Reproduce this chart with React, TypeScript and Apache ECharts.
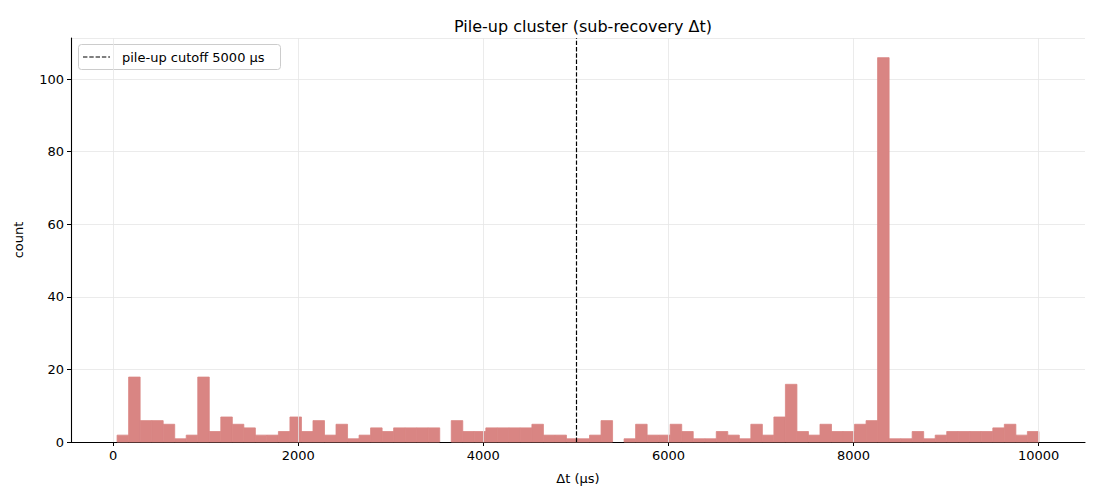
import React, { useEffect, useRef } from "react";
import * as echarts from "echarts";

const BIN_START = 43;
const BIN_WIDTH = 124.5;
const counts = [
  2, 18, 6, 6, 5, 1, 2, 18, 3, 7, 5, 4, 2, 2, 3, 7, 3, 6, 2, 5,
  1, 2, 4, 3, 4, 4, 4, 4, 0, 6, 3, 3, 4, 4, 4, 4, 5, 2, 2, 1, 1,
  2, 6, 0, 1, 5, 2, 2, 5, 3, 1, 1, 3, 2, 1, 5, 2, 7, 16, 3, 2, 5,
  3, 3, 5, 6, 106, 1, 1, 3, 1, 2, 3, 3, 3, 3, 4, 5, 2, 3,
];
const xTicks = [0, 2000, 4000, 6000, 8000, 10000];
const CUTOFF = 5000;
const TITLE = "Pile-up cluster (sub-recovery Δt)";
const LEGEND_LABEL = "pile-up cutoff 5000 μs";

const FONT = "DejaVu Sans";
const BAR_COLOR = "#d98583";

export default function App() {
  const ref = useRef<HTMLDivElement>(null);
  useEffect(() => {
    document.body.style.margin = "0";
    const chart = echarts.init(ref.current!, null, { renderer: "svg" });
    const bins = counts.map((c, i) => [
      BIN_START + i * BIN_WIDTH,
      BIN_START + (i + 1) * BIN_WIDTH,
      c,
    ]);
    const xMin = -455;
    const xMax = 10501;
    const yMax = 111.3;
    chart.setOption({
      animation: false,
      textStyle: { fontFamily: FONT },
      title: {
        text: TITLE,
        left: 578,
        top: 13,
        textAlign: "center",
        textStyle: { fontFamily: FONT, fontSize: 16, fontWeight: "normal", color: "#000" },
      },
      grid: { left: 71, right: 15, top: 38, bottom: 58, containLabel: false },
      xAxis: {
        type: "value",
        min: xMin,
        max: xMax,
        name: "Δt (μs)",
        nameLocation: "middle",
        nameGap: 30,
        nameTextStyle: { fontFamily: FONT, fontSize: 13, color: "#000" },
        axisLine: { show: true, onZero: false, lineStyle: { color: "#000", width: 1.1 } },
        axisTick: { show: true, customValues: xTicks, length: 4, lineStyle: { color: "#000" } },
        axisLabel: {
          customValues: xTicks,
          formatter: (v: number) => String(v),
          fontFamily: FONT,
          fontSize: 13,
          color: "#000",
          margin: 7,
        },
        splitLine: { show: false },
      },
      yAxis: {
        type: "value",
        position: "left",
        min: 0,
        max: yMax,
        interval: 20,
        name: "count",
        nameLocation: "middle",
        nameGap: 46,
        nameRotate: 90,
        nameTextStyle: { fontFamily: FONT, fontSize: 13, color: "#000" },
        axisLine: { show: true, onZero: false, lineStyle: { color: "#000", width: 1.1 } },
        axisTick: { show: true, length: 4, lineStyle: { color: "#000" } },
        axisLabel: {
          fontFamily: FONT,
          fontSize: 13,
          color: "#000",
          margin: 7,
          showMaxLabel: false,
        },
        splitLine: { show: true, lineStyle: { color: "#e6e6e6", width: 0.8 } },
      },
      series: [
        {
          type: "line",
          name: "grid",
          data: [],
          silent: true,
          z: 0,
          markLine: {
            silent: true,
            symbol: "none",
            label: { show: false },
            lineStyle: { color: "#e6e6e6", width: 0.8, type: "solid" },
            data: xTicks.map((v) => ({ xAxis: v })),
          },
        },
        {
          type: "custom",
          name: "hist",
          z: 2,
          data: bins,
          encode: { x: [0, 1], y: 2 },
          renderItem: (params: any, api: any) => {
            const h = api.value(2);
            if (!h) return null;
            const p0 = api.coord([api.value(0), h]);
            const p1 = api.coord([api.value(1), 0]);
            return {
              type: "rect",
              shape: { x: p0[0], y: p0[1] + 0.4, width: p1[0] - p0[0], height: p1[1] - p0[1] - 0.4 },
              style: { fill: BAR_COLOR, stroke: BAR_COLOR, lineWidth: 0.8 },
            };
          },
        },
        {
          type: "line",
          name: LEGEND_LABEL,
          data: [],
          z: 5,
          markLine: {
            silent: true,
            symbol: "none",
            label: { show: false },
            lineStyle: { color: "#000", width: 1.2, type: [4.4, 1.9] },
            data: [{ xAxis: CUTOFF }],
          },
        },
      ],
      graphic: [
        {
          type: "group",
          z: 100,
          children: [
            {
              type: "rect",
              shape: { x: 78.5, y: 44.5, width: 202, height: 25, r: 3 },
              style: { fill: "rgba(255,255,255,0.8)", stroke: "#cccccc", lineWidth: 1 },
            },
            {
              type: "line",
              shape: { x1: 83, y1: 57, x2: 110, y2: 57 },
              style: { stroke: "#000", lineWidth: 1.2, lineDash: [4.4, 1.9] },
            },
            {
              type: "text",
              x: 122,
              y: 57,
              style: {
                text: LEGEND_LABEL,
                fontFamily: FONT,
                fontSize: 13,
                fill: "#000",
                verticalAlign: "middle",
                align: "left",
              },
            },
          ],
        },
      ],
    });
    return () => chart.dispose();
  }, []);
  return <div ref={ref} style={{ width: 1100, height: 500 }} />;
}
